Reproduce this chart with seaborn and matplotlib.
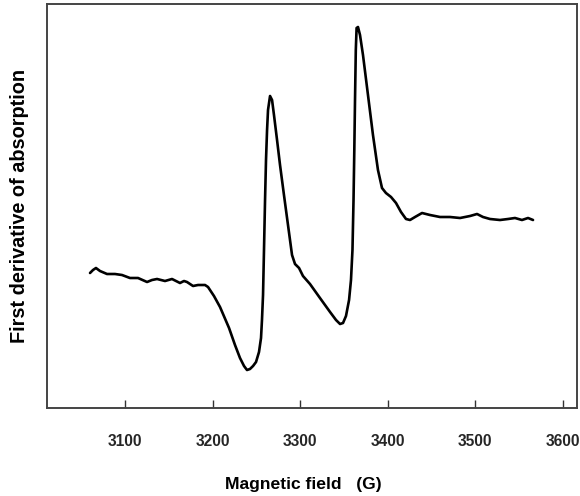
import matplotlib
matplotlib.use("Agg")
import matplotlib.pyplot as plt
import seaborn as sns
import pandas as pd

# Magnetic field (G) and first-derivative signal (arbitrary units)
field = [3060.1, 3063.5, 3066.9, 3071.5, 3079.5, 3088.6, 3096.6, 3105.7, 3114.9, 3125.2,
         3130.9, 3136.6, 3145.7, 3153.7, 3162.8, 3167.4, 3170.8, 3177.7, 3183.4, 3191.4,
         3194.8, 3201.6, 3208.5, 3218.8, 3225.6, 3231.3, 3235.9, 3239.3, 3242.7, 3246.2,
         3249.6, 3253.0, 3255.3, 3256.4, 3257.6, 3258.7, 3259.9, 3261.0, 3262.2, 3263.3,
         3265.6, 3267.9, 3270.1, 3273.6, 3277.0, 3281.5, 3286.1, 3290.7, 3294.1, 3298.7,
         3303.2, 3311.2, 3322.6, 3334.1, 3340.9, 3345.5, 3348.9, 3352.3, 3355.8, 3358.0,
         3359.7, 3360.9, 3361.8, 3362.6, 3363.5, 3364.4, 3366.0, 3368.3, 3371.7, 3377.4,
         3383.1, 3388.8, 3393.4, 3397.9, 3403.7, 3409.4, 3415.1, 3420.8, 3425.4, 3431.1,
         3439.1, 3448.2, 3459.6, 3471.0, 3482.5, 3493.9, 3501.9, 3508.7, 3516.7, 3528.1,
         3537.3, 3545.2, 3553.2, 3560.1, 3565.8]
signal = [135, 138, 140, 137, 134, 134, 133, 130, 130, 126,
          128, 129, 127, 129, 125, 127, 126, 122, 123, 123,
          121, 112, 101, 80, 63, 50, 42, 38, 39, 42,
          46, 56, 70, 88, 113, 158, 208, 248, 278, 298,
          312, 308, 293, 268, 243, 213, 183, 153, 144, 140,
          132, 124, 110, 96, 88, 84, 85, 92, 108, 128,
          158, 208, 258, 308, 358, 380, 381, 373, 353, 313,
          273, 238, 220, 215, 211, 205, 196, 189, 188, 191,
          195, 193, 191, 191, 190, 192, 194, 191, 189, 188,
          189, 190, 188, 190, 188]
xticks = [3100, 3200, 3300, 3400, 3500, 3600]

df = pd.DataFrame({"field": field, "signal": signal})

sns.set_theme(style="white")
plt.rcParams["font.family"] = ["Liberation Sans", "DejaVu Sans"]

fig = plt.figure(figsize=(5.8, 4.96), dpi=100)
ax = fig.add_axes([47/580, 1-408/496, 530/580, 404/496])

sns.lineplot(data=df, x="field", y="signal", color="black", linewidth=1.9,
             estimator=None, sort=False, ax=ax)

ax.set_xlim(3011, 3616)
ax.set_ylim(0, 404)
ax.set_xticks(xticks)
ax.set_xticklabels([str(t) for t in xticks], fontsize=11.2, fontweight="bold")
ax.set_yticks([])
ax.tick_params(axis="x", direction="in", length=6, width=1, color="#333333",
               pad=19, bottom=True)

for s in ax.spines.values():
    s.set_visible(True)
    s.set_color("#444444")
    s.set_linewidth(1.4)

ax.set_xlabel("Magnetic field   (G)", fontsize=12.6, fontweight="bold", color="black")
ax.xaxis.set_label_coords((303-47)/530, (408-484)/404)
ax.xaxis.label.set_va("center")
ax.set_ylabel("First derivative of absorption", fontsize=14.3, fontweight="bold", color="black")
ax.yaxis.set_label_coords((20-47)/530, 0.5)
ax.yaxis.label.set_va("center")

fig.savefig("out.png", dpi=100)
